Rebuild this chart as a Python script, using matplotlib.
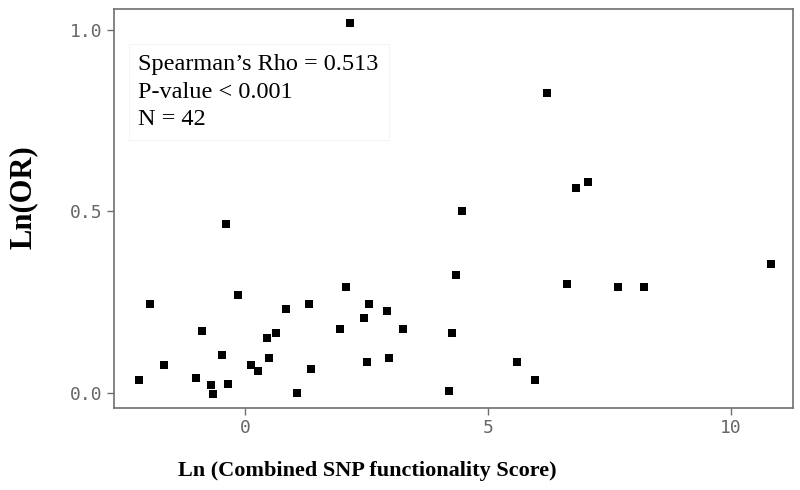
import matplotlib
matplotlib.use("Agg")
import matplotlib.pyplot as plt

# Data
ln_score = [2.17, 6.21, 6.81, 7.07, 4.46, -0.39,
            -2.18, -1.96, -1.67, -1.02, -0.88, -0.70, -0.66, -0.47, -0.36, -0.14,
            0.13, 0.27, 0.46, 0.50, 0.64, 0.84, 1.06, 1.32, 1.36, 1.95, 2.07,
            2.44, 2.52, 2.55, 2.92, 2.96, 3.26,
            4.35, 4.27, 4.20, 5.61, 5.98, 6.63, 7.67, 8.22, 10.84]
ln_or = [1.021, 0.826, 0.566, 0.581, 0.501, 0.465,
         0.035, 0.245, 0.075, 0.040, 0.171, 0.021, -0.005, 0.105, 0.025, 0.270,
         0.075, 0.060, 0.151, 0.095, 0.165, 0.230, 0.0, 0.245, 0.065, 0.175, 0.291,
         0.205, 0.085, 0.245, 0.225, 0.095, 0.175,
         0.325, 0.165, 0.005, 0.085, 0.035, 0.301, 0.291, 0.291, 0.356]
x_ticks = [0, 5, 10]
y_ticks = [0.0, 0.5, 1.0]
y_tick_labels = ["0.0", "0.5", "1.0"]
annotation = "Spearman\u2019s Rho = 0.513\nP-value < 0.001\nN = 42"

fig = plt.figure(figsize=(8, 4.9), dpi=100)
ax = fig.add_axes([0.1425, 0.167, 0.991 - 0.1425, 0.9816 - 0.167])

ax.scatter(ln_score, ln_or, marker="s", s=26, color="black", linewidths=0, zorder=5)

ax.set_xlim(-2.70, 11.28)
ax.set_ylim(-0.043, 1.059)
ax.set_xticks(x_ticks)
ax.set_xticklabels([str(t) for t in x_ticks])
ax.set_yticks(y_ticks)
ax.set_yticklabels(y_tick_labels)

for sp in ax.spines.values():
    sp.set_color("#707070")
    sp.set_linewidth(1.2)
ax.tick_params(axis="both", direction="out", length=5, width=1, color="#707070",
               labelcolor="#666666", labelsize=13, pad=3)
for lab in ax.get_xticklabels() + ax.get_yticklabels():
    lab.set_family("DejaVu Sans Mono")

ax.set_xlabel("Ln (Combined SNP functionality Score)", family="Liberation Serif",
              fontweight="bold", fontsize=16, va="center")
ax.xaxis.set_label_coords(0.3726, -0.158)
ax.set_ylabel("Ln(OR)", family="Liberation Serif", fontweight="bold", fontsize=22,
              va="center")
ax.yaxis.set_label_coords(-0.134, 0.529)

ax.text(0.036, 0.888, annotation, transform=ax.transAxes, va="top", ha="left",
        family="Liberation Serif", fontsize=17.5, linespacing=1.43, zorder=3,
        bbox=dict(boxstyle="square,pad=0.4", facecolor="white", edgecolor="#f5f5f5", linewidth=0.8))

fig.savefig("out.png", dpi=100)
